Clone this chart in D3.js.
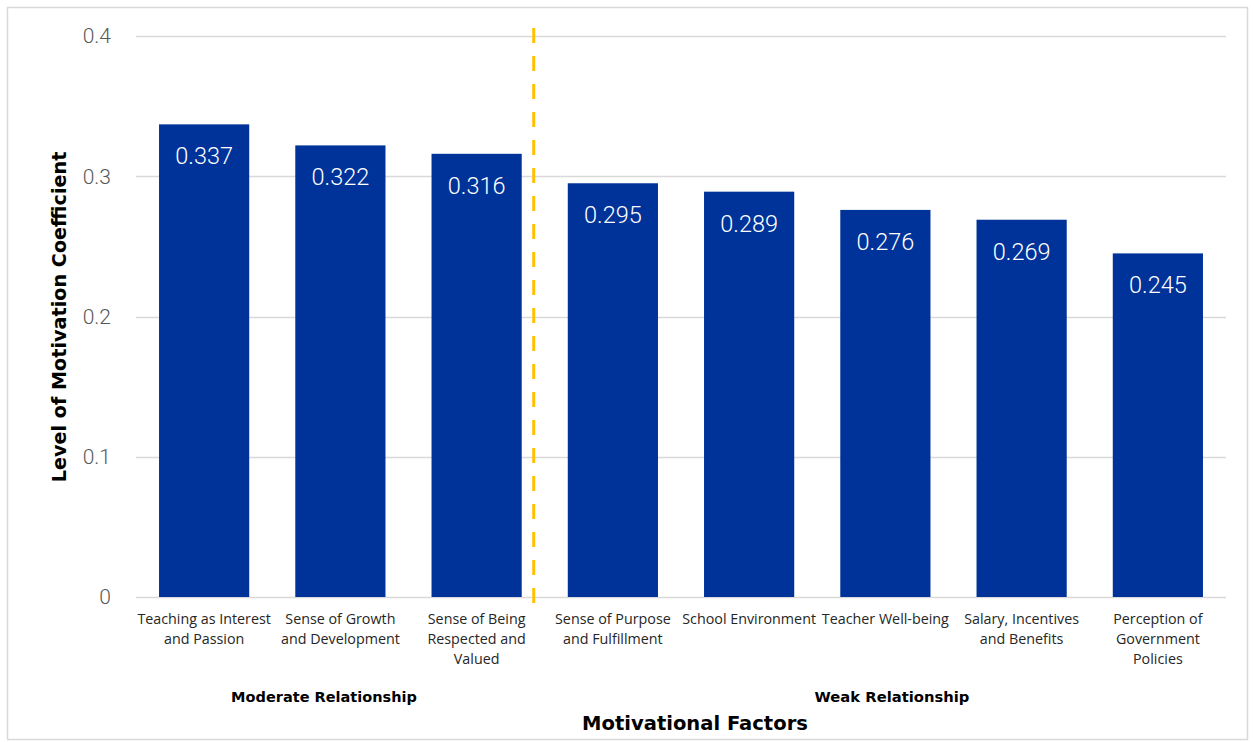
<!DOCTYPE html>
<html>
<head>
<meta charset="utf-8">
<script src="https://cdn.jsdelivr.net/npm/d3@7"></script>
<style>
  html, body { margin: 0; padding: 0; background: #fff; }
  svg { display: block; }
</style>
</head>
<body>
<svg id="chart" width="1253" height="742"></svg>
<script>
// Motivational factors and their coefficients
const categories = [
  ["Teaching as Interest", "and Passion"],
  ["Sense of Growth", "and Development"],
  ["Sense of Being", "Respected and", "Valued"],
  ["Sense of Purpose", "and Fulfillment"],
  ["School Environment"],
  ["Teacher Well-being"],
  ["Salary, Incentives", "and Benefits"],
  ["Perception of", "Government", "Policies"]
];
const values = [0.337, 0.322, 0.316, 0.295, 0.289, 0.276, 0.269, 0.245];
const yTicks = [0, 0.1, 0.2, 0.3, 0.4];
const tickLabels = ["0", "0.1", "0.2", "0.3", "0.4"];
const groupLabels = ["Moderate Relationship", "Weak Relationship"];
const groupRanges = [[0, 2], [3, 7]];

const svg = d3.select("#chart");
const labelFont = "'Open Sans', 'DejaVu Sans', sans-serif";
const boldFont = "'DejaVu Sans', 'Open Sans', sans-serif";
const numFont = "Roboto, 'Liberation Sans', sans-serif";

// Scale a text element's font size so it spans the given width
function fitWidth(sel, width) {
  const node = sel.node();
  const fs = parseFloat(sel.attr("font-size"));
  const w = node.getComputedTextLength();
  if (w > 0) sel.attr("font-size", (fs * width / w).toFixed(2));
  return sel;
}

// Outer frame
svg.append("rect")
  .attr("x", 7.5).attr("y", 7.5)
  .attr("width", 1240).attr("height", 732)
  .attr("fill", "#fff").attr("stroke", "#d9d9d9").attr("stroke-width", 1.5);

const plot = { left: 136, right: 1226, top: 36, bottom: 597 };

const x = d3.scaleBand()
  .domain(d3.range(categories.length))
  .range([plot.left, plot.right])
  .paddingInner(0.338)
  .paddingOuter(0.169);

const y = d3.scaleLinear()
  .domain([0, 0.4])
  .range([plot.bottom, plot.top]);

// Gridlines
svg.append("g")
  .selectAll("line")
  .data(yTicks)
  .join("line")
  .attr("x1", plot.left).attr("x2", plot.right)
  .attr("y1", d => Math.round(y(d)) + 0.5).attr("y2", d => Math.round(y(d)) + 0.5)
  .attr("stroke", "#d9d9d9").attr("stroke-width", 1.5);

// Y tick labels
svg.append("g")
  .selectAll("text")
  .data(yTicks)
  .join("text")
  .attr("x", 111)
  .attr("y", d => y(d))
  .attr("dy", "0.35em")
  .attr("text-anchor", "end")
  .attr("font-family", numFont)
  .attr("font-weight", 300)
  .attr("font-size", 21)
  .attr("fill", "#595959")
  .text((d, i) => tickLabels[i]);

// Bars
svg.append("g")
  .selectAll("rect")
  .data(values)
  .join("rect")
  .attr("x", (d, i) => x(i))
  .attr("y", d => y(d))
  .attr("width", x.bandwidth())
  .attr("height", d => y(0) - y(d))
  .attr("fill", "#003399");

// Value labels inside bars
svg.append("g")
  .selectAll("text")
  .data(values)
  .join("text")
  .attr("x", (d, i) => x(i) + x.bandwidth() / 2)
  .attr("y", d => y(d) + 40)
  .attr("text-anchor", "middle")
  .attr("font-family", numFont)
  .attr("font-weight", 300)
  .attr("font-size", 23.5)
  .attr("fill", "#fff")
  .text(d => d.toFixed(3));

// Group divider
const divX = x(2) + x.bandwidth() + 12;
svg.append("line")
  .attr("x1", divX).attr("x2", divX)
  .attr("y1", 28).attr("y2", 604)
  .attr("stroke", "#ffc000")
  .attr("stroke-width", 3)
  .attr("stroke-dasharray", "15 13");

// Category labels
const catG = svg.append("g");
categories.forEach((lines, i) => {
  const t = catG.append("text")
    .attr("x", x(i) + x.bandwidth() / 2)
    .attr("y", 624)
    .attr("text-anchor", "middle")
    .attr("font-family", labelFont)
    .attr("font-size", 14.3)
    .attr("fill", "#262626");
  lines.forEach((ln, j) => {
    t.append("tspan")
      .attr("x", x(i) + x.bandwidth() / 2)
      .attr("y", 624 + j * 20)
      .text(ln);
  });
});

// Group labels
const groupCenters = [324, 892];
const groupWidths = [186, 155];
groupLabels.forEach((lab, i) => {
  const t = svg.append("text")
    .attr("x", groupCenters[i])
    .attr("y", 702)
    .attr("text-anchor", "middle")
    .attr("font-family", boldFont)
    .attr("font-weight", "bold")
    .attr("font-size", 15)
    .attr("fill", "#000")
    .text(lab);
  fitWidth(t, groupWidths[i]);
});

// Axis titles
fitWidth(svg.append("text")
  .attr("x", 695).attr("y", 730)
  .attr("text-anchor", "middle")
  .attr("font-family", boldFont)
  .attr("font-weight", "bold")
  .attr("font-size", 20)
  .attr("fill", "#000")
  .text("Motivational Factors"), 226);

fitWidth(svg.append("text")
  .attr("transform", "translate(66,317) rotate(-90)")
  .attr("text-anchor", "middle")
  .attr("font-family", boldFont)
  .attr("font-weight", "bold")
  .attr("font-size", 18.5)
  .attr("fill", "#000")
  .text("Level of Motivation Coefficient"), 331);
</script>
</body>
</html>
